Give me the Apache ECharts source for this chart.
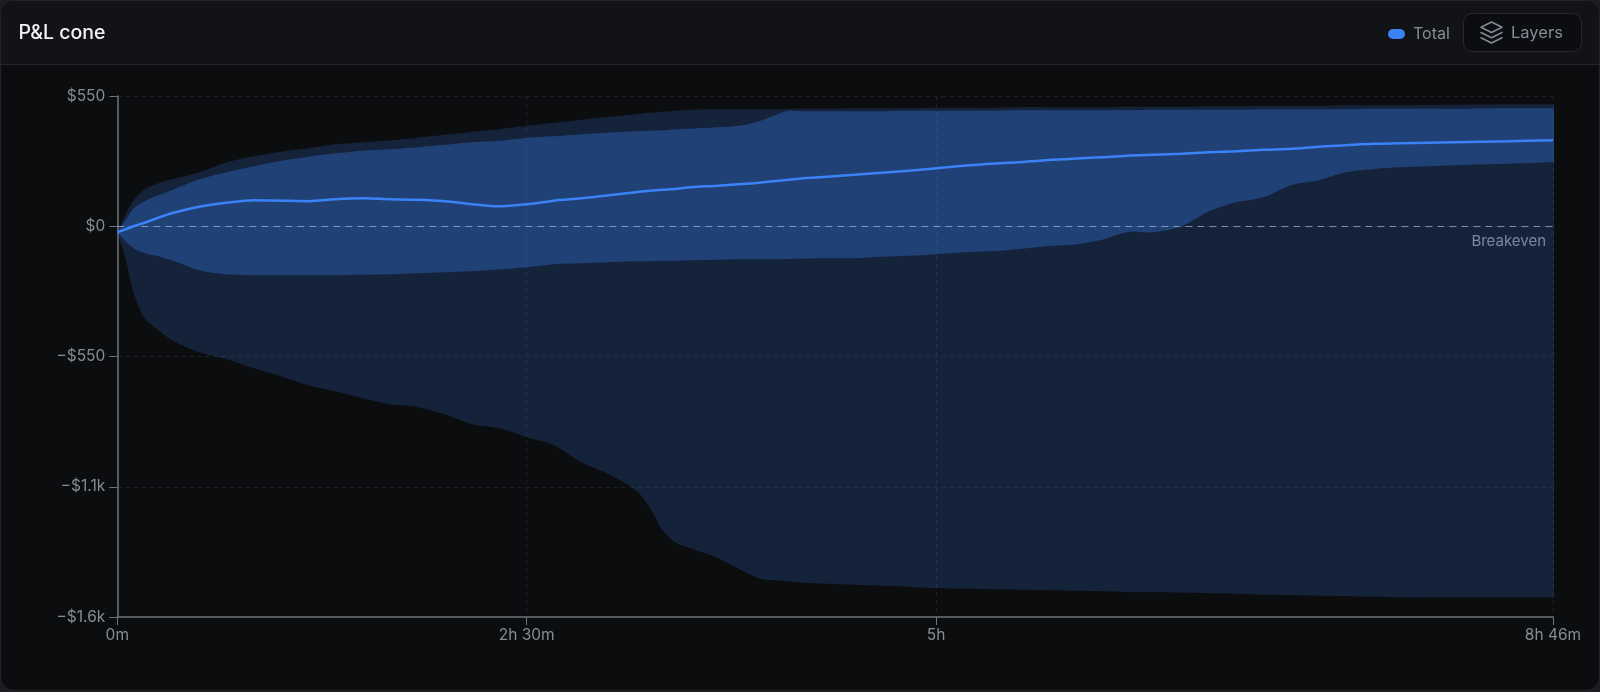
<!DOCTYPE html>
<html>
<head>
<meta charset="utf-8">
<style>html,body{margin:0;padding:0;background:#1b1d22;}#c{width:1600px;height:692px;}</style>
<script src="https://cdn.jsdelivr.net/npm/echarts@6/dist/echarts.min.js"></script>
</head>
<body>
<div id="c"></div>
<script>
const minutes = [0,3,6,10,15,20,30,40,50,60,70,80,90,100,110,120,130,140,150,160,170,180,190,195,200,205,210,220,230,235,240,245,250,260,270,280,290,300,310,320,330,340,350,360,370,380,390,400,410,420,430,440,450,460,470,490,510,526];
const median = [-25,-13,0,15,36,55,82,99,110,108,106,114,118,114,112,106,93,84,93,108,118,131,144,150,154,158,165,171,179,184,190,195,201,209,217,226,234,245,255,264,270,279,285,291,298,302,306,312,317,323,327,336,342,348,350,355,359,363];
const outerLow = [-25,-135,-283,-389,-439,-481,-532,-562,-600,-633,-671,-697,-726,-752,-764,-794,-836,-853,-891,-925,-997,-1047,-1115,-1187,-1288,-1339,-1360,-1402,-1461,-1486,-1495,-1499,-1503,-1510,-1514,-1518,-1522,-1529,-1531,-1533,-1535,-1537,-1539,-1541,-1544,-1546,-1548,-1550,-1552,-1556,-1558,-1560,-1562,-1565,-1567,-1567,-1567,-1567];
const outerHigh = [-25,51,110,156,182,198,228,270,296,315,329,346,355,363,374,386,399,410,424,437,450,462,473,479,484,488,492,494,494,494,494,495,496,496,498,498,498,500,500,500,503,503,503,503,505,505,505,507,507,509,509,509,511,511,511,513,515,515];
const innerLow = [-25,-63,-93,-114,-127,-144,-186,-203,-207,-207,-207,-207,-205,-203,-198,-194,-190,-182,-173,-160,-156,-152,-148,-148,-146,-146,-144,-141,-139,-139,-139,-138,-137,-135,-135,-129,-125,-118,-110,-106,-97,-84,-78,-59,-25,-25,0,63,101,122,173,194,228,241,249,258,264,270];
const innerHigh = [-25,25,76,106,131,152,198,228,253,277,294,308,319,325,334,344,355,361,374,380,389,395,401,403,405,410,412,418,428,443,465,486,486,486,486,486,488,488,488,488,490,490,490,490,490,492,492,492,492,494,494,494,494,496,496,496,498,498];
const xTicks = [0,150,300,526];
const xTickLabels = ['0m','2h 30m','5h','8h 46m'];
const yTicks = [550,0,-550,-1100,-1650];
const yTickLabels = ['$550','$0','\u2212$550','\u2212$1.1k','\u2212$1.6k'];

const FONT = 'Inter, "Noto Sans", sans-serif';
const GREY = '#878b95';
const iconStyle = {fill:'none',stroke:'#858a96',lineWidth:1.5,lineJoin:'round',lineCap:'round'};

// One closed polygon per band, with every vertex mapped through the chart's axes.
// The right end runs on past the plot and is clipped, so the curve smoothing cannot round the end corners.
function bandSeries(name, lows, highs, fill, z) {
  return {
    type:'custom', name, silent:true, z, animation:false, clip:true,
    coordinateSystem:'cartesian2d',
    data: minutes.map((m, i) => [m, lows[i], highs[i]]),
    encode:{x:0, y:[1,2]},
    renderItem(params, api) {
      if (params.dataIndex !== 0) return null;
      const top = minutes.map((m, i) => api.coord([m, highs[i]]));
      const bottom = minutes.map((m, i) => api.coord([m, lows[i]])).reverse();
      const a = top[top.length - 1], b = bottom[0];
      const runOff = [[a[0] + 25, a[1]], [a[0] + 50, a[1]], [b[0] + 50, b[1]], [b[0] + 25, b[1]]];
      return {type:'polygon', shape:{points: top.concat(runOff, bottom), smooth:0.3}, style:{fill, stroke:null}, silent:true};
    }
  };
}

const chart = echarts.init(document.getElementById('c'), null, {renderer:'canvas'});
chart.setOption({
  animation:false,
  backgroundColor:'transparent',
  grid:{left:117.3,right:47,top:96,bottom:75,containLabel:false},
  xAxis:{
    type:'value',min:0,max:526,position:'bottom',
    axisLine:{onZero:false,lineStyle:{color:'#6f7278',width:1.5}},
    axisTick:{show:true,length:8,customValues:xTicks,lineStyle:{color:'#6f7278',width:1}},
    axisLabel:{customValues:xTicks,margin:10,color:GREY,fontFamily:FONT,fontSize:15.5,hideOverlap:false,
      showMinLabel:true,showMaxLabel:true,
      formatter:(v)=>xTickLabels[xTicks.indexOf(v)]},
    splitLine:{show:true,lineStyle:{color:'#1f2125',type:[4,4],width:1}}
  },
  yAxis:{
    type:'value',min:-1650,max:550,interval:550,
    axisLine:{show:true,onZero:false,lineStyle:{color:'#6f7278',width:1.5}},
    axisTick:{show:true,length:8,lineStyle:{color:'#6f7278',width:1}},
    axisLabel:{margin:12,color:GREY,fontFamily:FONT,fontSize:15.5,
      formatter:(v)=>yTickLabels[yTicks.indexOf(v)]},
    splitLine:{show:true,lineStyle:{color:'#1f2125',type:[4,4],width:1}}
  },
  legend:{
    data:['Total'],left:1383,top:21,itemWidth:17,itemHeight:11,
    icon:'path://M5,0 H12 A5,5 0 0 1 12,10 H5 A5,5 0 0 1 5,0 Z',itemGap:0,selectedMode:false,
    textStyle:{color:GREY,fontFamily:FONT,fontSize:16,padding:[0,0,0,3]}
  },
  series:[
    bandSeries('outerBand', outerLow, outerHigh, 'rgba(59,130,246,0.19)', 2),
    bandSeries('innerBand', innerLow, innerHigh, 'rgba(59,130,246,0.32)', 3),
    {type:'line',name:'Total',showSymbol:false,symbol:'none',silent:true,smooth:0.3,animation:false,
      data:minutes.map((m,i)=>[m,median[i]]),lineStyle:{color:'#3b82f6',width:2.5},itemStyle:{color:'#3b82f6'},z:5,
      markLine:{silent:true,symbol:'none',animation:false,
        lineStyle:{color:'rgba(190,200,220,0.62)',type:[7,5],width:1.2},
        label:{show:true,position:'insideEndBottom',distance:[7,8],formatter:'Breakeven',color:'#7b88a3',fontFamily:FONT,fontSize:15},
        data:[{yAxis:0}]}}
  ],
  graphic:[
    {type:'rect',z:-20,shape:{x:0.5,y:0.5,width:1599,height:690,r:13},style:{fill:'#0c0d0f',stroke:'#22242a',lineWidth:1}},
    {type:'rect',z:-19,shape:{x:1,y:1,width:1598,height:64,r:[13,13,0,0]},style:{fill:'#111316'}},
    {type:'rect',z:-18,shape:{x:1,y:64,width:1598,height:1},style:{fill:'#25272c'}},
    {type:'text',z:10,style:{x:18.5,y:33.5,text:'P&L cone',fill:'#f2f3f5',font:'500 19.5px '+FONT,textVerticalAlign:'middle'}},
    {type:'rect',z:10,shape:{x:1463.5,y:13.5,width:118,height:38,r:9},style:{fill:'#0c0d10',stroke:'#27292f',lineWidth:1}},
    {type:'polygon',z:11,shape:{points:[[1491.5,22],[1481,27.25],[1491.5,32.5],[1502,27.25]]},style:iconStyle},
    {type:'polyline',z:11,shape:{points:[[1481,32.5],[1491.5,37.75],[1502,32.5]]},style:iconStyle},
    {type:'polyline',z:11,shape:{points:[[1481,37.75],[1491.5,43],[1502,37.75]]},style:iconStyle},
    {type:'text',z:11,style:{x:1511,y:33,text:'Layers',fill:'#878b95',font:'16.5px '+FONT,textVerticalAlign:'middle'}}
  ]
});
</script>
</body>
</html>
